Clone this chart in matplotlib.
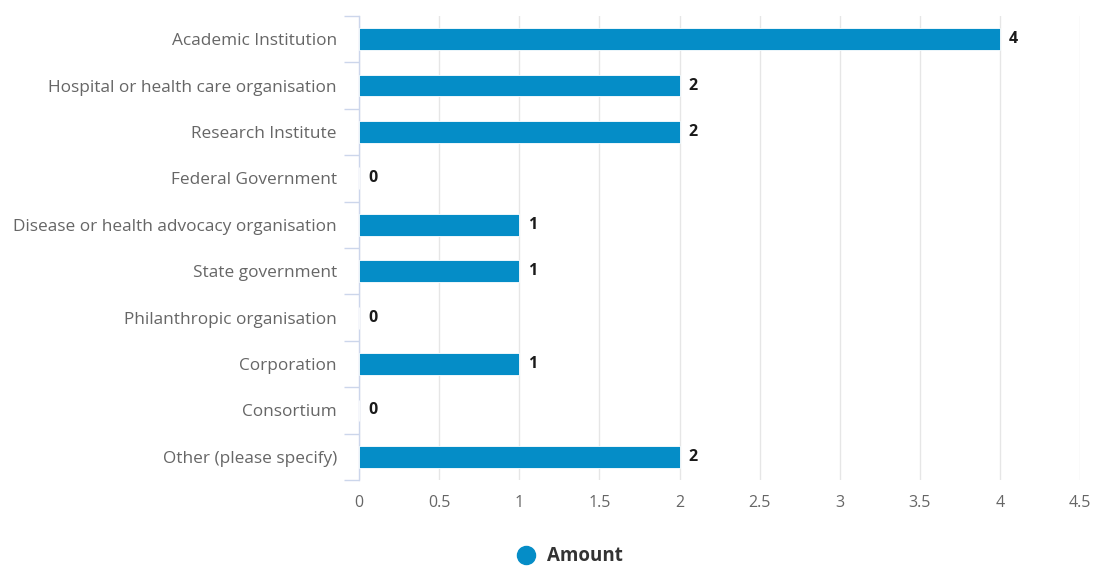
import matplotlib.pyplot as plt
import numpy as np

categories = [
    "Academic Institution",
    "Hospital or health care organisation",
    "Research Institute",
    "Federal Government",
    "Disease or health advocacy organisation",
    "State government",
    "Philanthropic organisation",
    "Corporation",
    "Consortium",
    "Other (please specify)",
]
amounts = [4, 2, 2, 0, 1, 1, 0, 1, 0, 2]
x_ticks = [0, 0.5, 1, 1.5, 2, 2.5, 3, 3.5, 4, 4.5]

plt.rcParams['font.family'] = ['Open Sans', 'DejaVu Sans']

bar_color = '#058DC7'
axis_color = '#ccd6eb'
grid_color = '#e6e6e6'
label_color = '#666666'

fig = plt.figure(figsize=(10.99, 5.67), dpi=100)
ax = fig.add_axes([0.3267, 0.1534, 0.6561, 0.8184])

y = np.arange(len(categories))
ax.barh(y, amounts, height=0.47, color=bar_color, edgecolor='white', linewidth=0.6, zorder=3)

for yi, v in zip(y, amounts):
    ax.annotate(str(v), (v, yi), xytext=(6.5, 0), textcoords='offset points',
                ha='left', va='center', fontsize=11.5, fontweight='bold', color='#1a1a1a')

ax.set_xlim(0, 4.5)
ax.set_ylim(len(categories) - 0.5, -0.5)
ax.set_xticks(x_ticks)
ax.set_xticklabels([f"{t:g}" for t in x_ticks])
ax.set_yticks(y)
ax.set_yticklabels(categories)
ax.set_yticks(np.arange(-0.5, len(categories)), minor=True)

ax.xaxis.grid(True, color=grid_color, linewidth=1, zorder=0)
ax.tick_params(axis='x', length=0, labelsize=11.5, labelcolor=label_color, pad=11)
ax.tick_params(axis='y', which='major', length=0, labelsize=12.4, labelcolor=label_color, pad=16)
ax.tick_params(axis='y', which='minor', length=10.5, width=1, color=axis_color)

for side in ['top', 'right', 'bottom']:
    ax.spines[side].set_visible(False)
ax.spines['left'].set_color(axis_color)
ax.spines['left'].set_linewidth(1)

# legend below the plot
leg = fig.legend(handles=[plt.Line2D([], [], marker='o', linestyle='', markersize=13,
                                     color=bar_color)],
                 labels=['Amount'], loc='center', bbox_to_anchor=(0.514, 0.019),
                 frameon=False, handletextpad=0.15, prop={'size': 13.5, 'weight': 'bold'})
for t in leg.get_texts():
    t.set_color('#333333')

fig.savefig('out.png', dpi=100)
